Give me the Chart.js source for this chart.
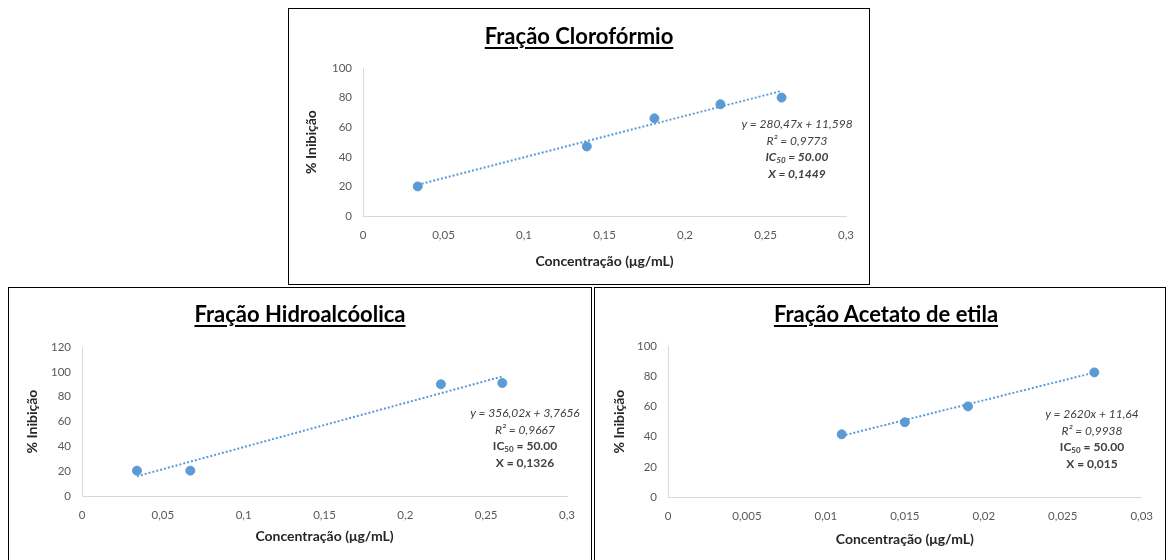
<!DOCTYPE html>
<html>
<head>
<meta charset="utf-8">
<script src="https://cdn.jsdelivr.net/npm/chart.js@4.4.1/dist/chart.umd.min.js"></script>
<style>
  body { margin: 0; background: #fff; width: 1166px; height: 560px; overflow: hidden; position: relative; font-family: Lato, "Liberation Sans", sans-serif; }
  .panel { position: absolute; border: 1px solid #000; background: #fff; }
  .panel canvas { position: absolute; left: 0; top: 0; }
  .title { position: absolute; left: 0; right: 0; text-align: center; font-weight: bold; font-size: 22px; line-height: 1; color: #000;
           text-decoration: underline; text-underline-offset: 3px; text-decoration-thickness: 1.5px; }
  .note { position: absolute; width: 160px; text-align: center; font-size: 12px; line-height: 16.5px; color: #404040; white-space: nowrap; }
  .it { font-style: italic; }
  .b { font-weight: bold; }
  sub { font-size: 8px; vertical-align: -2px; line-height: 0; }
</style>
</head>
<body>

<div class="panel" id="p1" style="left:288px; top:8px; width:580px; height:275px;">
  <canvas id="c1" width="580" height="275"></canvas>
  <div class="title" style="top:16px;">Fração Clorofórmio</div>
  <div class="note" style="left:428px; top:107px;">
    <div class="it">y = 280,47x + 11,598</div>
    <div class="it">R² = 0,9773</div>
    <div class="it b">IC<sub>50</sub> = 50.00</div>
    <div class="it b">X = 0,1449</div>
  </div>
</div>

<div class="panel" id="p2" style="left:8px; top:287px; width:582px; height:280px;">
  <canvas id="c2" width="582" height="280"></canvas>
  <div class="title" style="top:15px;">Fração Hidroalcóolica</div>
  <div class="note" style="left:436px; top:117px;">
    <div class="it">y = 356,02x + 3,7656</div>
    <div class="it">R² = 0,9667</div>
    <div class="b">IC<sub>50</sub> = 50.00</div>
    <div class="b">X = 0,1326</div>
  </div>
</div>

<div class="panel" id="p3" style="left:594px; top:287px; width:570px; height:280px;">
  <canvas id="c3" width="570" height="280"></canvas>
  <div class="title" style="top:15px; left:12px;">Fração Acetato de etila</div>
  <div class="note" style="left:417px; top:118px;">
    <div class="it">y = 2620x + 11,64</div>
    <div class="it">R² = 0,9938</div>
    <div class="b">IC<sub>50</sub> = 50.00</div>
    <div class="b">X = 0,015</div>
  </div>
</div>

<script>
// Fração Clorofórmio
const concChloro = [0.034, 0.139, 0.181, 0.222, 0.26];
const inhibChloro = [20, 47, 66, 75.5, 80];
const trendXChloro = [0.034, 0.26];
const trendYChloro = [21.1, 84.5];
const yTicksChloro = [0, 20, 40, 60, 80, 100];

// Fração Hidroalcóolica
const concHydro = [0.034, 0.067, 0.222, 0.26];
const inhibHydro = [20.4, 20.4, 90, 91];
const trendXHydro = [0.034, 0.26];
const trendYHydro = [15.9, 96.3];
const yTicksHydro = [0, 20, 40, 60, 80, 100, 120];

// Fração Acetato de etila
const concEthyl = [0.011, 0.015, 0.019, 0.027];
const inhibEthyl = [41.5, 49.5, 60, 82.5];
const trendXEthyl = [0.011, 0.027];
const trendYEthyl = [40.5, 82.4];
const yTicksEthyl = [0, 20, 40, 60, 80, 100];

const xTicksWide = [0, 0.05, 0.1, 0.15, 0.2, 0.25, 0.3];
const xTicksNarrow = [0, 0.005, 0.01, 0.015, 0.02, 0.025, 0.03];

const blue = '#5b9bd5';
const fontFam = 'Lato, "Liberation Sans", sans-serif';
const toComma = (v) => String(v).replace('.', ',');

function makeChart(id, xs, ys, tx, ty, xTicks, yTicks, box) {
  const W = document.getElementById(id).width;
  const H = document.getElementById(id).height;
  return new Chart(document.getElementById(id), {
    type: 'scatter',
    data: {
      datasets: [
        {
          data: xs.map((x, i) => ({ x: x, y: ys[i] })),
          backgroundColor: blue,
          borderColor: blue,
          pointRadius: 4.5,
          order: 1
        },
        {
          data: tx.map((x, i) => ({ x: x, y: ty[i] })),
          showLine: true,
          borderColor: blue,
          borderWidth: 2,
          borderDash: [2, 2],
          pointRadius: 0,
          order: 2
        }
      ]
    },
    options: {
      responsive: false,
      animation: false,
      layout: { padding: { left: 0, top: box.T, right: W - box.R, bottom: 0 } },
      plugins: { legend: { display: false }, tooltip: { enabled: false }, title: { display: false } },
      scales: {
        x: {
          min: xTicks[0], max: xTicks[xTicks.length - 1],
          afterBuildTicks: (s) => { s.ticks = xTicks.map((v) => ({ value: v })); },
          afterFit: (s) => { s.height = H - box.B; },
          grid: { display: false, drawTicks: false },
          border: { display: true, color: '#d9d9d9', width: 1 },
          ticks: { padding: 12, color: '#595959', font: { family: fontFam, size: 11.5 }, callback: toComma, maxRotation: 0 },
          title: { display: true, text: 'Concentração (μg/mL)', color: '#262626',
                   font: { family: fontFam, size: 14, weight: 'bold' }, padding: { top: 4, bottom: box.xt } }
        },
        y: {
          min: yTicks[0], max: yTicks[yTicks.length - 1],
          afterBuildTicks: (s) => { s.ticks = yTicks.map((v) => ({ value: v })); },
          afterFit: (s) => { s.width = box.L; },
          grid: { display: false, drawTicks: false },
          border: { display: true, color: '#d9d9d9', width: 1 },
          ticks: { padding: 11, color: '#595959', font: { family: fontFam, size: 11.5 } },
          title: { display: true, text: '% Inibição', color: '#262626',
                   font: { family: fontFam, size: 14, weight: 'bold' }, padding: { top: box.yt, bottom: 4 } }
        }
      }
    }
  });
}

makeChart('c1', concChloro, inhibChloro, trendXChloro, trendYChloro, xTicksWide, yTicksChloro,
  { L: 74, R: 557, T: 59, B: 207, xt: 14, yt: 14.5 });
makeChart('c2', concHydro, inhibHydro, trendXHydro, trendYHydro, xTicksWide, yTicksHydro,
  { L: 73, R: 558, T: 59, B: 208, xt: 23, yt: 15.5 });
makeChart('c3', concEthyl, inhibEthyl, trendXEthyl, trendYEthyl, xTicksNarrow, yTicksEthyl,
  { L: 73, R: 547, T: 58, B: 209, xt: 20, yt: 16.5 });
</script>
</body>
</html>
